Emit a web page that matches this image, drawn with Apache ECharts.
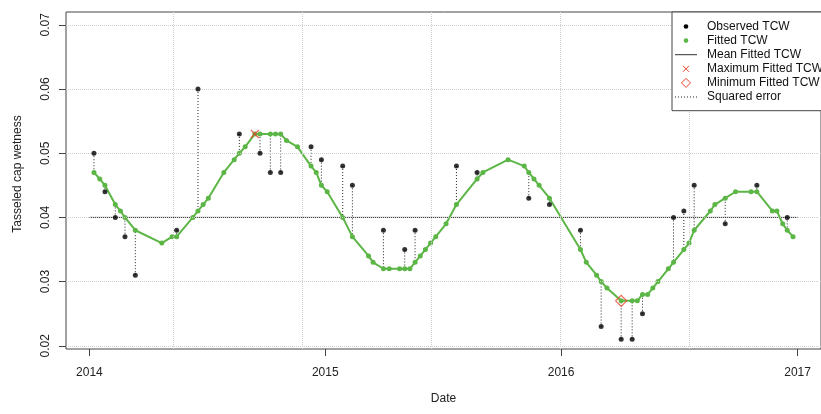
<!DOCTYPE html>
<html>
<head>
<meta charset="utf-8">
<script src="https://cdn.jsdelivr.net/npm/echarts@6/dist/echarts.min.js"></script>
<style>
html,body{margin:0;padding:0;background:#fff;}
#chart{width:821px;height:414px;}
</style>
</head>
<body>
<div id="chart"></div>
<script>
// ---- data ----
const fittedDates = [
 '2014-01-08','2014-01-17','2014-01-25','2014-02-10','2014-02-18','2014-02-25','2014-03-13','2014-04-23',
 '2014-05-09','2014-05-16','2014-06-10','2014-06-18','2014-06-26','2014-07-04','2014-07-28','2014-08-13',
 '2014-08-21','2014-08-30','2014-09-14','2014-09-22','2014-10-08','2014-10-16','2014-10-24','2014-11-02',
 '2014-11-19','2014-12-10','2014-12-18','2014-12-26',
 '2015-01-04','2015-01-28','2015-02-12','2015-03-09','2015-03-16','2015-04-01','2015-04-10','2015-04-26',
 '2015-05-04','2015-05-12','2015-05-20','2015-05-28','2015-06-05','2015-06-13','2015-06-21','2015-07-07',
 '2015-07-23','2015-08-24','2015-09-02','2015-10-11','2015-11-05','2015-11-12','2015-11-20','2015-11-28',
 '2015-12-14',
 '2016-01-31','2016-02-09','2016-02-25','2016-03-03','2016-03-12','2016-04-03','2016-04-20','2016-04-28',
 '2016-05-06','2016-05-14','2016-05-22','2016-05-30','2016-06-15','2016-06-23','2016-07-09','2016-07-17',
 '2016-07-25','2016-08-19','2016-08-26','2016-09-11','2016-09-27','2016-10-21','2016-10-30','2016-11-23',
 '2016-11-30','2016-12-09','2016-12-16','2016-12-25'
];
const fittedValues = [
 0.047,0.046,0.045,0.042,0.041,0.040,0.038,0.036,
 0.037,0.037,0.040,0.041,0.042,0.043,0.047,0.049,
 0.050,0.051,0.053,0.053,0.053,0.053,0.053,0.052,
 0.051,0.048,0.047,0.045,
 0.044,0.040,0.037,0.034,0.033,0.032,0.032,0.032,
 0.032,0.032,0.033,0.034,0.035,0.036,0.037,0.039,
 0.042,0.046,0.047,0.049,0.048,0.047,0.046,0.045,
 0.043,
 0.035,0.033,0.031,0.030,0.029,0.027,0.027,0.027,
 0.028,0.028,0.029,0.030,0.032,0.033,0.035,0.036,
 0.038,0.041,0.042,0.043,0.044,0.044,0.044,0.041,
 0.041,0.039,0.038,0.037
];
const observedDates = [
 '2014-01-08','2014-01-25','2014-02-10','2014-02-25','2014-03-13','2014-05-16','2014-06-18','2014-08-21',
 '2014-09-22','2014-10-08','2014-10-24','2014-12-10','2014-12-26',
 '2015-01-28','2015-02-12','2015-04-01','2015-05-04','2015-05-20','2015-07-23','2015-08-24','2015-11-12',
 '2015-12-14',
 '2016-01-31','2016-03-03','2016-04-03','2016-04-20','2016-05-06','2016-06-23','2016-07-09','2016-07-25',
 '2016-09-11','2016-10-30','2016-12-16'
];
const observedValues = [
 0.050,0.044,0.040,0.037,0.031,0.038,0.060,0.053,
 0.050,0.047,0.047,0.051,0.049,
 0.048,0.045,0.038,0.035,0.038,0.048,0.047,0.043,
 0.042,
 0.038,0.023,0.021,0.021,0.025,0.040,0.041,0.045,
 0.039,0.045,0.040
];
const meanFitted = 0.040;
const meanSpan = ['2014-01-01','2017-01-01'];
const xTickDates = ['2014-01-01','2015-01-01','2016-01-01','2017-01-01'];
const xGridDates = ['2014-05-10','2014-11-26','2015-06-14','2015-12-31','2016-07-18'];
const yTicks = [0.02,0.03,0.04,0.05,0.06,0.07];
const yRange = [0.0195, 0.072];

const legendLabels = ['Observed TCW','Fitted TCW','Mean Fitted TCW','Maximum Fitted TCW','Minimum Fitted TCW','Squared error'];

// ---- helpers ----
const t = s => Date.parse(s + 'T00:00:00Z');
const fitted = fittedDates.map((d,i)=>[t(d), fittedValues[i]]);
const observed = observedDates.map((d,i)=>[t(d), observedValues[i]]);
const fitMap = {};
fittedDates.forEach((d,i)=>{ fitMap[d] = fittedValues[i]; });
const errors = observedDates.map((d,i)=>[t(d), observedValues[i], fitMap[d]]);
let iMax = 0, iMin = 0;
fittedValues.forEach((v,i)=>{ if (v > fittedValues[iMax]) iMax = i; if (v < fittedValues[iMin]) iMin = i; });

const allX = fitted.map(p=>p[0]).concat(observed.map(p=>p[0]));
const x0 = Math.min(...allX), x1 = Math.max(...allX);
const span = x1 - x0;
const xMin = x0 - 0.04*span, xMax = x1 + 0.04*span;

const GREEN = '#5cb646';
const FONT = 'Liberation Sans, Arial, sans-serif';

const chart = echarts.init(document.getElementById('chart'), null, {renderer:'canvas'});

// legend layout
const LX = 672, LY = 12, rowY0 = 26.5, rowH = 14.1, symX = 686, txtX = 707;
const legendEls = [{
  type:'rect', shape:{x:LX, y:LY, width:170, height:98.7},
  style:{fill:'#fff', stroke:'#444', lineWidth:1}, z:100
}];
legendLabels.forEach((lab,i)=>{
  const y = rowY0 + i*rowH;
  legendEls.push({type:'text', x:txtX, y:y, z:101,
    style:{text:lab, fill:'#111', font:'12px ' + FONT, textVerticalAlign:'middle', textAlign:'left'}});
  if (i===0) legendEls.push({type:'circle', shape:{cx:symX, cy:y, r:2.3}, style:{fill:'#000'}, z:101});
  if (i===1) legendEls.push({type:'circle', shape:{cx:symX, cy:y, r:2.3}, style:{fill:GREEN}, z:101});
  if (i===2) legendEls.push({type:'line', shape:{x1:675, y1:y, x2:697, y2:y}, style:{stroke:'#333', lineWidth:1}, z:101});
  if (i===3) legendEls.push({type:'polyline', shape:{points:[[symX-3,y-3],[symX+3,y+3]]}, style:{stroke:'#e8402a', lineWidth:1, fill:null}, z:101},
                            {type:'polyline', shape:{points:[[symX+3,y-3],[symX-3,y+3]]}, style:{stroke:'#e8402a', lineWidth:1, fill:null}, z:101});
  if (i===4) legendEls.push({type:'polygon', shape:{points:[[symX,y-4.5],[symX+4.5,y],[symX,y+4.5],[symX-4.5,y]]}, style:{stroke:'#e8402a', lineWidth:1, fill:null}, z:101});
  if (i===5) legendEls.push({type:'line', shape:{x1:675, y1:y, x2:697, y2:y}, style:{stroke:'#222', lineWidth:1, lineDash:[1,2]}, z:101});
});
legendEls.push({type:'text', x:18, y:174, rotation:Math.PI/2, z:101,
  style:{text:'Tasseled cap wetness', fill:'#222', font:'12px ' + FONT, textAlign:'center', textVerticalAlign:'middle'}});

const gridLineStyle = {color:'#cfcfcf', type:'dotted', width:1};

const option = {
  animation:false,
  backgroundColor:'#fff',
  textStyle:{fontFamily:FONT},
  grid:{left:66, top:12, right:-5, bottom:65, show:true, borderColor:'#444', borderWidth:1, backgroundColor:'transparent'},
  xAxis:{
    type:'value', min:xMin, max:xMax,
    name:'Date', nameLocation:'middle', nameGap:44,
    nameTextStyle:{color:'#222', fontSize:12, fontFamily:FONT},
    axisLine:{show:false},
    axisTick:{show:true, length:7, lineStyle:{color:'#444'}, customValues:xTickDates.map(t)},
    axisLabel:{show:true, margin:18, color:'#222', fontSize:12, fontFamily:FONT,
      customValues:xTickDates.map(t), formatter:v=>String(new Date(v).getUTCFullYear())},
    splitLine:{show:false}
  },
  yAxis:{
    type:'value', min:yRange[0], max:yRange[1],
    axisLine:{show:false},
    axisTick:{show:true, length:7, lineStyle:{color:'#444'}, customValues:yTicks},
    axisLabel:{show:true, rotate:90, margin:14, color:'#222', fontSize:12, fontFamily:FONT,
      customValues:yTicks, formatter:v=>v.toFixed(2)},
    splitLine:{show:false}
  },
  graphic:legendEls,
  series:[
    { // grid lines
      type:'line', data:[], silent:true, z:1,
      markLine:{silent:true, symbol:'none', label:{show:false}, lineStyle:gridLineStyle, animation:false,
        emphasis:{disabled:true},
        data: xGridDates.map(d=>({xAxis:t(d)})).concat(yTicks.map(v=>({yAxis:v})))}
    },
    { // mean
      type:'line', data:meanSpan.map(d=>[t(d), meanFitted]), symbol:'none', silent:true, z:2,
      lineStyle:{color:'#333', width:1}
    },
    { // squared error
      type:'custom', z:3, silent:true, data:errors,
      renderItem:(params, api)=>{
        const p1 = api.coord([api.value(0), api.value(1)]);
        const p2 = api.coord([api.value(0), api.value(2)]);
        return {type:'line', shape:{x1:p1[0], y1:p1[1], x2:p2[0], y2:p2[1]},
          style:{stroke:'#222', lineWidth:1, lineDash:[1,2]}};
      }
    },
    { // fitted
      type:'line', data:fitted, z:4, silent:true,
      symbol:'circle', symbolSize:5, showAllSymbol:true,
      lineStyle:{color:GREEN, width:2}, itemStyle:{color:GREEN}
    },
    { // observed
      type:'scatter', data:observed, z:5, silent:true,
      symbol:'circle', symbolSize:5, itemStyle:{color:'#000'}
    },
    { // max
      type:'scatter', data:[fitted[iMax]], z:6, silent:true,
      symbol:'path://M0,0L10,10M10,0L0,10', symbolSize:8,
      itemStyle:{color:'transparent', borderColor:'#e8402a', borderWidth:1.2}
    },
    { // min
      type:'scatter', data:[fitted[iMin]], z:6, silent:true,
      symbol:'diamond', symbolSize:[11,11],
      itemStyle:{color:'transparent', borderColor:'#e8402a', borderWidth:1.2}
    }
  ]
};
chart.setOption(option);
</script>
</body>
</html>
